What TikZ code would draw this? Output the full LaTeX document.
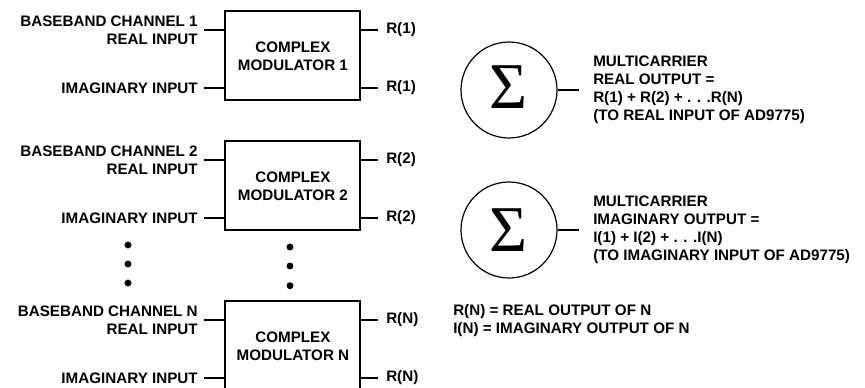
\documentclass[tikz,border=0pt]{standalone}
\usepackage{fontspec}
\setmainfont{Liberation Sans}
\newfontfamily\sigmafont{Liberation Serif}

\begin{document}
\begin{tikzpicture}[x=0.75pt, y=-0.75pt,
		every node/.style={font=\fontsize{11.4}{13.5}\selectfont\bfseries},
		modbox/.style={draw, line width=1.6pt, minimum width=101.25pt, minimum height=66.75pt, align=center, inner sep=0pt},
		inlbl/.style={anchor=east, align=right, inner xsep=4.5pt},
		outlbl/.style={anchor=west, inner xsep=6pt},
		wire/.style={line width=0.8pt},
		sumnode/.style={draw, circle, line width=0.9pt, minimum size=72pt, inner sep=0pt, font=\sigmafont\fontsize{49}{49}\selectfont},
		sumtxt/.style={anchor=west, align=left, inner xsep=10.5pt}]
	% 1. fixed frame of the page
	\useasboundingbox (0,0) rectangle (865,387);
	
	% 2. the three complex modulators with their inputs and outputs
	\foreach \k/\n/\y in {1/1/55.8, 2/2/185.8, 3/N/345.8} {
		\node[modbox] (mod\k) at (292.9,\y) {COMPLEX\\MODULATOR \n};
		\node[inlbl] (re\k) at (204,\y-25.8) {BASEBAND CHANNEL \n\\REAL INPUT};
		\node[inlbl] (im\k) at (204,\y+32.2) {IMAGINARY INPUT};
		\node[outlbl] (ore\k) at (378,\y-25.8) {R(\n)};
		\node[outlbl] (oim\k) at (378,\y+32.2) {R(\n)};
		\draw[wire] (re\k.east) -- (re\k.east -| mod\k.west);
		\draw[wire] (im\k.east) -- (im\k.east -| mod\k.west);
		\draw[wire] (mod\k.east |- ore\k.west) -- (ore\k.west);
		\draw[wire] (mod\k.east |- oim\k.west) -- (oim\k.west);
	}
	
	% 3. continuation dots between channel 2 and channel N
	\foreach \dy in {245,264,283} \fill (128,\dy) circle (2.6pt);
	\foreach \dy in {247,266,285.7} \fill (290,\dy) circle (2.6pt);
	
	% 4. summing junctions and their outputs
	\node[sumnode] (sumre) at (509,90) {\raisebox{4pt}{Σ}};
	\node[sumtxt] (txtre) at (579,90) {MULTICARRIER\\REAL OUTPUT =\\R(1) + R(2) + . . .R(N)\\(TO REAL INPUT OF AD9775)};
	\draw[wire] (sumre.east) -- (txtre.west);
	
	\node[sumnode] (sumim) at (509,230) {Σ};
	\node[sumtxt] (txtim) at (579,230) {MULTICARRIER\\IMAGINARY OUTPUT =\\I(1) + I(2) + . . .I(N)\\(TO IMAGINARY INPUT OF AD9775)};
	\draw[wire] (sumim.east) -- (txtim.west);
	
	% 5. legend
	\node[anchor=north west, align=left, inner sep=0pt] (legend) at (453,304) {R(N) = REAL OUTPUT OF N\\I(N) = IMAGINARY OUTPUT OF N};
\end{tikzpicture}
\end{document}
